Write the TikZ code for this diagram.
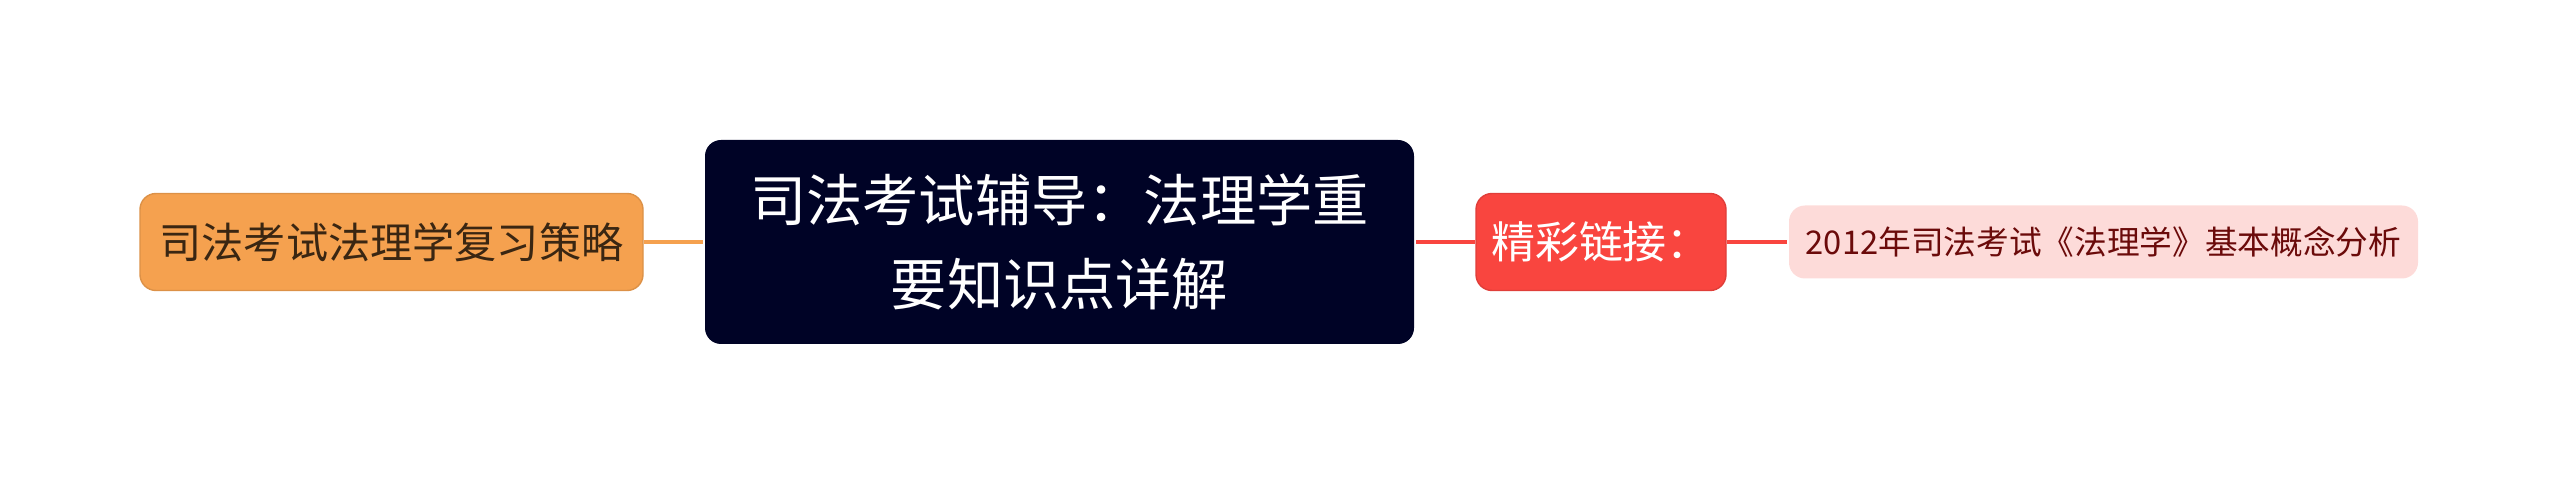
\documentclass[tikz,border=0pt]{standalone}
\usepackage{fontspec}
\setmainfont{Noto Sans CJK SC}
\usetikzlibrary{positioning}
\definecolor{rootbg}{HTML}{000326}
\definecolor{leftbg}{HTML}{F5A14F}
\definecolor{lefttx}{HTML}{3A2612}
\definecolor{redbg}{HTML}{F9453F}
\definecolor{pinkbg}{HTML}{FDDBD9}
\definecolor{pinktx}{HTML}{6B0A0A}
\tikzstyle{every node}+=[rounded corners=1.6mm,inner sep=0mm,align=center]
\tikzstyle{every path}+=[line width=1.3pt]

\begin{document}
\begin{tikzpicture}
\useasboundingbox (0,0) rectangle (25.6,4.85);

\node[fill=rootbg,text=white,minimum width=7.09cm,minimum height=2.04cm,font=\fontsize{16}{24}\selectfont] (root) at (10.595,2.43) {司法考试辅导：法理学重\\要知识点详解};

\node[fill=leftbg,draw=leftbg!90!black,line width=0.4pt,text=lefttx,minimum width=5.03cm,minimum height=0.97cm,font=\fontsize{12}{16}\selectfont] (review) at (3.915,2.43) {司法考试法理学复习策略};

\node[fill=redbg,draw=redbg!90!black,line width=0.4pt,text=white,minimum width=2.5cm,minimum height=0.97cm,font=\fontsize{12.5}{16}\selectfont] (links) at (16.01,2.43) {精彩链接：};

\node[fill=pinkbg,text=pinktx,minimum width=6.29cm,minimum height=0.73cm,font=\fontsize{9.3}{12}\selectfont] (article) at (21.035,2.43) {2012年司法考试《法理学》基本概念分析};

\draw[leftbg] (review) -- (root);
\draw[redbg] (root) -- (links);
\draw[redbg] (links) -- (article);

\end{tikzpicture}
\end{document}
